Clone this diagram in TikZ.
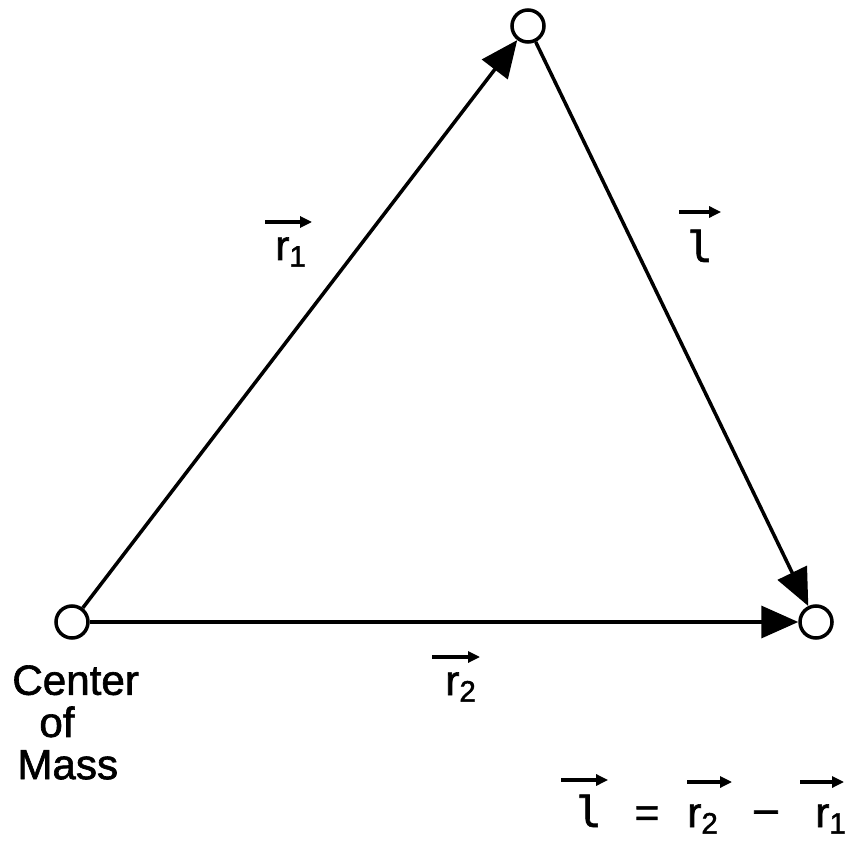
\documentclass[tikz,border=0pt]{standalone}
\usepackage{fontspec}
\setmainfont{Liberation Sans}[FakeBold=1.5]
\newfontfamily\ellfont{DejaVu Sans Mono}[FakeBold=1.5]
\usetikzlibrary{arrows.meta,positioning}
\newcommand{\ellsym}{{\ellfont l}}

\begin{document}
\begin{tikzpicture}[x=0.02cm,y=0.02cm,
    ball/.style={circle,draw,line width=2pt,fill=white,minimum size=0.64cm,inner sep=0pt},
    bond/.style={line width=2pt,-{Triangle[length=0.74cm,width=0.64cm]}},
    vecbar/.style={line width=1.8pt,-{Triangle[length=0.24cm,width=0.22cm]}},
    lbl/.style={font=\fontsize{24}{24}\selectfont,inner sep=0pt}]
    \useasboundingbox (0,0) rectangle (851,846);
    % --- particles ---
    \node[ball] (com) at (72,224) {};
    \node[ball] (top) at (528,820) {};
    \node[ball] (right) at (816,224) {};
    % --- position vectors ---
    \draw[bond] (com) -- (top);
    \draw[bond] (top) -- (right);
    \draw[bond] (com) -- (right);
    % --- labels on the sides ---
    \node[lbl, anchor=base west] (rone) at (275,586) {r\textsubscript{1}};
    \draw[vecbar] ([shift={(-10,38)}]rone.base west) -- ([shift={(5,38)}]rone.base east);
    \node[lbl, anchor=base west] (ell) at (687,584) {\ellsym};
    \draw[vecbar] ([shift={(-8,50)}]ell.base west) -- ([shift={(8,50)}]ell.base east);
    \node[lbl, anchor=base west] (rtwo) at (445,151) {r\textsubscript{2}};
    \draw[vecbar] ([shift={(-13,38)}]rtwo.base west) -- ([shift={(3,38)}]rtwo.base east);
    \node[lbl, anchor=north west, align=left] (comtext) at (12,181)
        {Center\\\hspace*{0.54cm}of\\\hspace*{0.1cm}Mass};
    % --- relation ---
    \node[lbl, anchor=base west] (eqell) at (576,19) {\ellsym};
    \draw[vecbar] ([shift={(-15,47)}]eqell.base west) -- ([shift={(6,47)}]eqell.base east);
    \node[lbl, anchor=base] (eqsign) at (647,19) {=};
    \node[lbl, anchor=base west] (eqrtwo) at (687,19) {r\textsubscript{2}};
    \draw[vecbar] ([shift={(0,45)}]eqrtwo.base west) -- ([shift={(13,45)}]eqrtwo.base east);
    \node[lbl, anchor=base] (eqminus) at (766,19) {\raisebox{0.1em}{–}};
    \node[lbl, anchor=base west] (eqrone) at (815,19) {r\textsubscript{1}};
    \draw[vecbar] ([shift={(-15,45)}]eqrone.base west) -- ([shift={(-3,45)}]eqrone.base east);
\end{tikzpicture}
\end{document}
